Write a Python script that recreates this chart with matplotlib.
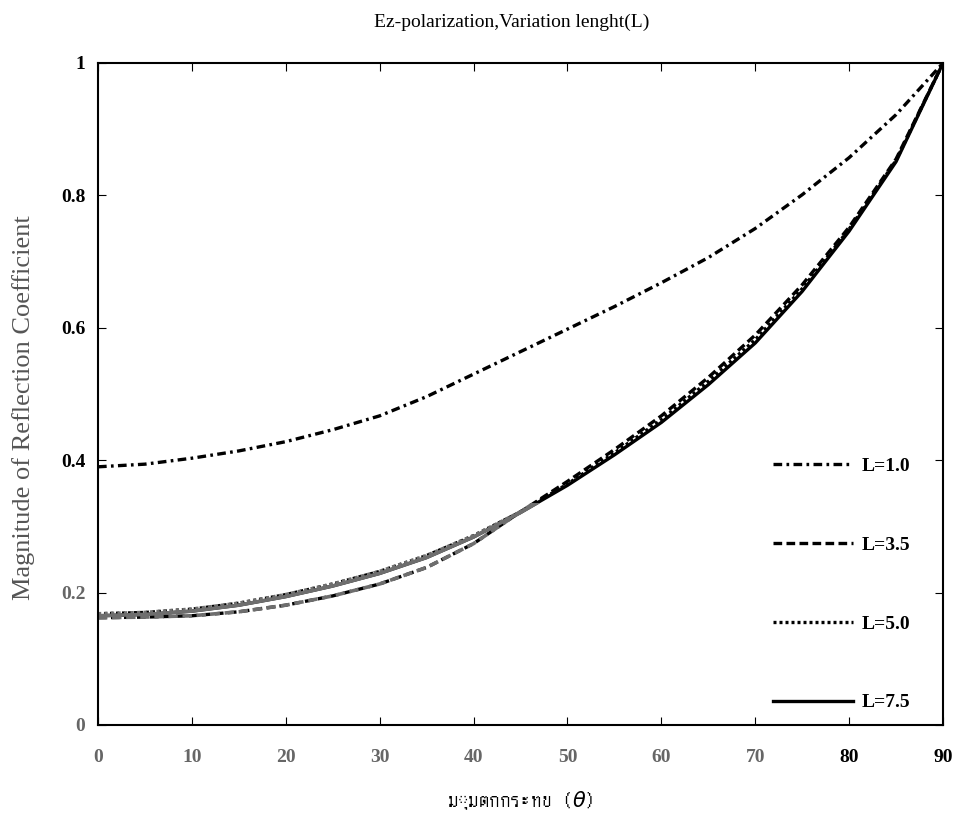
import numpy as np
import matplotlib
matplotlib.use("Agg")
from matplotlib import pyplot as plt
from matplotlib import font_manager
from matplotlib.ft2font import FT2Font
from matplotlib.patches import Rectangle

angle = [0, 5, 10, 15, 20, 25, 30, 35, 40, 45, 50, 55, 60, 65, 70, 75, 80, 85, 90]

L10 = [0.390, 0.394, 0.403, 0.414, 0.428, 0.446, 0.467, 0.496, 0.530, 0.564,
       0.598, 0.632, 0.668, 0.706, 0.750, 0.801, 0.857, 0.922, 1.0]
L35 = [0.162, 0.163, 0.165, 0.171, 0.181, 0.195, 0.213, 0.238, 0.274, 0.322,
       0.368, 0.416, 0.467, 0.525, 0.589, 0.665, 0.752, 0.855, 1.0]
L50 = [0.168, 0.170, 0.175, 0.184, 0.197, 0.213, 0.232, 0.256, 0.286, 0.322,
       0.364, 0.411, 0.461, 0.519, 0.582, 0.659, 0.749, 0.853, 1.0]
L75 = [0.165, 0.167, 0.172, 0.181, 0.194, 0.210, 0.229, 0.253, 0.284, 0.321,
       0.362, 0.408, 0.457, 0.514, 0.577, 0.655, 0.746, 0.851, 1.0]

labels = ["L=1.0", "L=3.5", "L=5.0", "L=7.5"]
xticks = [0, 10, 20, 30, 40, 50, 60, 70, 80, 90]
yticks = [0, 0.2, 0.4, 0.6, 0.8, 1]
yticklabels = ["0", "0.2", "0.4", "0.6", "0.8", "1"]

# look for any installed font that has Thai letters
thai_family = None
for path in font_manager.findSystemFonts():
    try:
        f = FT2Font(path)
        if 0x0E21 in f.get_charmap():
            thai_family = font_manager.FontProperties(fname=path).get_name()
            break
    except Exception:
        pass

plt.rcParams['font.family'] = ['Liberation Serif', 'DejaVu Sans']
xlab_family = ['Liberation Serif', 'DejaVu Sans']
if thai_family:
    xlab_family = [thai_family, 'DejaVu Sans']

fig = plt.figure(figsize=(9.57, 8.18), dpi=100)
ax = fig.add_axes([0.1024, 0.1137, 0.883, 0.8093])

styles = [(0, (2.6, 1.3, 0.8, 1.3)), (0, (2.6, 1.3)), (0, (0.9, 0.9)), '-']
series = [L10, L35, L50, L75]
for ys, ls, lab in zip(series, styles, labels):
    ax.plot(angle, ys, color='black', lw=2.4, linestyle=ls, label=lab)

# faded (grey) part of the scan in the lower left
fade = Rectangle((0, 0), 47, 0.335, transform=ax.transData)
for ys, ls in zip(series[1:], styles[1:]):
    g, = ax.plot(angle, ys, color='#6e6e6e', lw=2.6, linestyle=ls)
    g.set_clip_path(fade)

ax.set_xlim(0, 90)
ax.set_ylim(0, 1)
ax.set_xticks(xticks)
ax.set_yticks(yticks)
ax.set_yticklabels(yticklabels)
ax.tick_params(direction='in', top=True, right=True, length=6, labelsize=14)
ax.tick_params(axis='x', pad=17)
ax.tick_params(axis='y', pad=9)
for lab in ax.get_xticklabels() + ax.get_yticklabels():
    lab.set_fontweight('bold')
for lab in ax.get_xticklabels()[:8] + ax.get_yticklabels()[:2]:
    lab.set_color('#666666')
for sp in ax.spines.values():
    sp.set_linewidth(1.5)

ax.set_title("Ez-polarization,Variation lenght(L)", fontsize=14, pad=26, x=0.49)
ax.set_ylabel("Magnitude of Reflection Coefficient", fontsize=19, color='#555555')
ax.yaxis.set_label_coords(-0.074, 0.48)
ax.set_xlabel(r"มุมตกกระทบ ($\theta$)", fontsize=15, family=xlab_family, labelpad=17)

leg = ax.legend(loc='lower right', bbox_to_anchor=(0.982, -0.006), frameon=False,
                handlelength=4.1, labelspacing=3.15, fontsize=14, handletextpad=0.45)
for t in leg.get_texts():
    t.set_fontweight('bold')

fig.savefig("out.png", dpi=100)
